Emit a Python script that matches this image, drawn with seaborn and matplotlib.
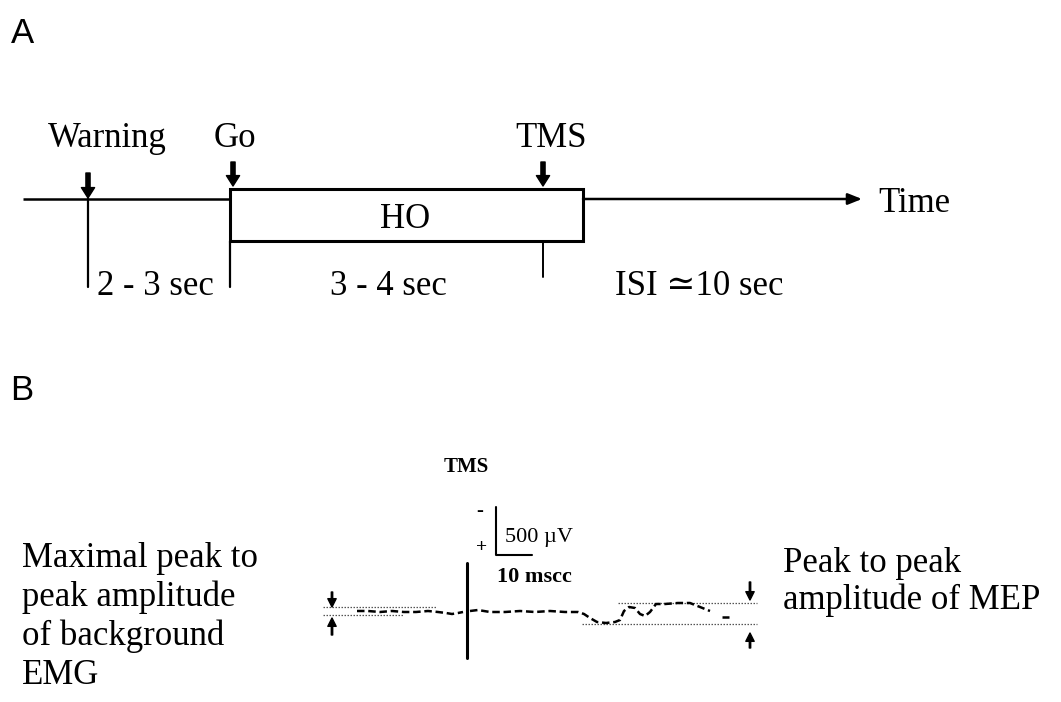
import matplotlib
matplotlib.use("Agg")
import matplotlib.pyplot as plt
import seaborn as sns
import pandas as pd
from matplotlib.patches import Rectangle

# ---------------- data ----------------
panel_labels = ["A", "B"]
event_names = ["Warning", "Go", "TMS"]
event_x = [88, 233, 543]
interval_labels = ["2 - 3 sec", "3 - 4 sec", "ISI \u224310 sec"]
interval_x = [97, 330, 615]
box_label = "HO"
axis_label = "Time"

emg_pre_x = [357, 368, 380, 392, 404, 416, 428, 438, 446, 452, 458, 463]
emg_pre_y = [611, 611, 612, 611, 612, 612, 611, 612, 613, 614, 613, 612]
emg_post_x = [470, 478, 490, 505, 520, 535, 550, 565, 578, 584, 590, 597,
              606, 615, 620, 624, 629, 635, 640, 645, 650, 656, 665, 678,
              690, 700, 710]
emg_post_y = [611, 610, 612, 612, 611, 612, 611, 612, 612, 614, 618, 622,
              623, 622, 620, 611, 607, 608, 614, 616, 612, 604, 604, 603,
              603, 607, 611]
emg_tail_x = [722, 729]
emg_tail_y = [617, 617]

left_text = ["Maximal peak to", "peak amplitude", "of background", "EMG"]
right_text = ["Peak to peak", "amplitude of MEP"]
scale_labels = ["500 \u00b5V", "10 mscc"]

# ---------------- figure ----------------
sns.set_theme(style="white")
plt.rcParams["font.family"] = ["Liberation Serif", "DejaVu Serif"]
plt.rcParams["text.color"] = "black"

fig = plt.figure(figsize=(10.61, 7.02), dpi=100)
ax = fig.add_axes([0, 0, 1, 1])
ax.set_xlim(0, 1061)
ax.set_ylim(702, 0)
ax.axis("off")

SERIF = ["Liberation Serif", "DejaVu Serif"]
SANS = ["Liberation Sans", "DejaVu Sans"]
FS = 25
K = "black"

# panel labels
ax.text(11, 43, panel_labels[0], family=SANS, fontsize=25, va="baseline", ha="left", color=K)
ax.text(10, 400, panel_labels[1], family=SANS, fontsize=25, va="baseline", ha="left", color=K)

# ---------- Panel A: timeline ----------
line_y = 199
box_left, box_right, box_top, box_bot = 230, 583, 189, 241
ax.plot([23, box_left], [line_y, line_y], color=K, lw=1.8, solid_capstyle="butt")
ax.annotate("", xy=(862, line_y), xytext=(box_right, line_y),
            arrowprops=dict(arrowstyle="-|>,head_length=0.7,head_width=0.28",
                            color=K, lw=1.8, shrinkA=0, shrinkB=0))
ax.add_patch(Rectangle((box_left, box_top), box_right - box_left, box_bot - box_top,
                       fill=False, edgecolor=K, lw=2.2))
ax.text(405, 228, box_label, family=SERIF, fontsize=FS, ha="center", va="baseline", color=K)
ax.text(878, 212, axis_label, family=SERIF, fontsize=FS, ha="left", va="baseline", color=K)

# event arrows and labels
arrow_tops = [173, 162, 162]
arrow_tips = [198, 186, 186]
label_cx = [107, 235, 551]
for name, x, top, tip, cx in zip(event_names, event_x, arrow_tops, arrow_tips, label_cx):
    ax.annotate("", xy=(x, tip), xytext=(x, top),
                arrowprops=dict(width=3.0, headwidth=9.5, headlength=7.5,
                                color=K, shrink=0))
    ax.text(cx, 147, name, family=SERIF, fontsize=FS, ha="center", va="baseline", color=K)

# interval ticks
ax.plot([88, 88], [line_y, 287], color=K, lw=1.6)
ax.plot([230, 230], [box_bot, 287], color=K, lw=1.6)
ax.plot([543, 543], [box_bot, 277], color=K, lw=1.4)

for lab, x in zip(interval_labels, interval_x):
    ax.text(x, 295, lab, family=SERIF, fontsize=FS, ha="left", va="baseline", color=K)

# ---------- Panel B: EMG trace ----------
ax.text(466, 472, "TMS", family=SERIF, fontsize=15, fontweight="bold",
        ha="center", va="baseline", color=K)
# calibration bar
ax.plot([496, 496, 532], [507, 555, 555], color=K, lw=1.5)
ax.text(480, 516, "-", family=SERIF, fontsize=15, fontweight="bold", ha="center", va="baseline", color=K)
ax.text(482, 552, "+", family=SERIF, fontsize=14, fontweight="bold", ha="center", va="baseline", color=K)
ax.text(505, 542, scale_labels[0], family=SERIF, fontsize=16, ha="left", va="baseline", color=K)
ax.text(497, 582, scale_labels[1], family=SERIF, fontsize=16, fontweight="bold",
        ha="left", va="baseline", color=K)

# TMS artefact line
ax.plot([467, 467], [563, 658], color=K, lw=2.2)

# reference (peak) dotted lines
dot_kw = dict(color="#555555", lw=0.9, linestyle=(0, (1.2, 1.2)))
ax.plot([323, 437], [607, 607], **dot_kw)
ax.plot([323, 403], [615, 615], **dot_kw)
ax.plot([618, 757], [603, 603], **dot_kw)
ax.plot([582, 757], [624, 624], **dot_kw)

# the trace itself
for xs, ys in [(emg_pre_x, emg_pre_y), (emg_post_x, emg_post_y), (emg_tail_x, emg_tail_y)]:
    sns.lineplot(x=xs, y=ys, ax=ax, color=K, sort=False, estimator=None,
                 lw=1.8, linestyle=(0, (3, 1.5)))

# small amplitude arrows
small = dict(width=1.0, headwidth=6, headlength=6, color=K, shrink=0)
ax.annotate("", xy=(332, 607), xytext=(332, 592), arrowprops=small)
ax.annotate("", xy=(332, 618), xytext=(332, 635), arrowprops=small)
ax.annotate("", xy=(750, 600), xytext=(750, 582), arrowprops=small)
ax.annotate("", xy=(750, 633), xytext=(750, 648), arrowprops=small)

# side descriptions
for i, line in enumerate(left_text):
    ax.text(22, 567 + i * 39, line, family=SERIF, fontsize=FS, ha="left", va="baseline", color=K)
for i, line in enumerate(right_text):
    ax.text(783, 572 + i * 37, line, family=SERIF, fontsize=FS, ha="left", va="baseline", color=K)

fig.savefig("out.png", dpi=100, facecolor="white")
